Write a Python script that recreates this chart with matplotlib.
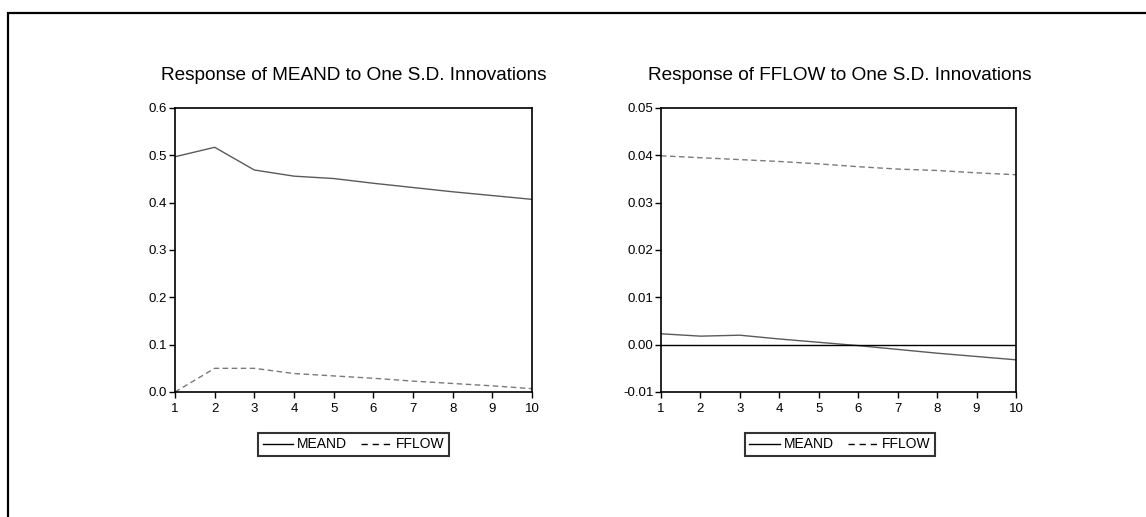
import matplotlib
matplotlib.use("Agg")
import matplotlib.pyplot as plt
from matplotlib.patches import Rectangle

periods = [1, 2, 3, 4, 5, 6, 7, 8, 9, 10]

# Response of MEAND
meand_to_meand = [0.497, 0.517, 0.469, 0.456, 0.451, 0.441, 0.432, 0.423, 0.415, 0.407]
meand_to_fflow = [0.000, 0.050, 0.050, 0.039, 0.034, 0.029, 0.023, 0.018, 0.013, 0.007]

# Response of FFLOW
fflow_to_meand = [0.0023, 0.0018, 0.0020, 0.0012, 0.0005, -0.0002, -0.0010, -0.0018, -0.0025, -0.0032]
fflow_to_fflow = [0.0399, 0.0395, 0.0391, 0.0387, 0.0382, 0.0376, 0.0371, 0.0368, 0.0363, 0.0359]

left_yticks = [0.0, 0.1, 0.2, 0.3, 0.4, 0.5, 0.6]
left_ylabels = ["0.0", "0.1", "0.2", "0.3", "0.4", "0.5", "0.6"]
right_yticks = [-0.01, 0.0, 0.01, 0.02, 0.03, 0.04, 0.05]
right_ylabels = ["-0.01", "0.00", "0.01", "0.02", "0.03", "0.04", "0.05"]

titles = ["Response of MEAND to One S.D. Innovations",
          "Response of FFLOW to One S.D. Innovations"]
legend_labels = ["MEAND", "FFLOW"]

plt.rcParams['font.family'] = ['Liberation Sans', 'DejaVu Sans']

W, H = 1146, 517
fig = plt.figure(figsize=(W / 100, H / 100), dpi=100)

# outer frame
fig.patches.append(Rectangle((7.5 / W, -0.1), 1.2, 1 - 13 / H + 0.1,
                             transform=fig.transFigure, fill=False,
                             edgecolor='black', linewidth=1.6))

def px_axes(x0, x1, y0, y1):
    return [x0 / W, 1 - y1 / H, (x1 - x0) / W, (y1 - y0) / H]

ax1 = fig.add_axes(px_axes(175, 532, 108, 392))
ax2 = fig.add_axes(px_axes(661, 1016, 108, 392))

solid_color = '#5a5a5a'
dash_color = '#7a7a7a'

for ax, ys, yl, data, title, lx in [
    (ax1, left_yticks, left_ylabels, (meand_to_meand, meand_to_fflow), titles[0], 353.5),
    (ax2, right_yticks, right_ylabels, (fflow_to_meand, fflow_to_fflow), titles[1], 840),
]:
    ax.plot(periods, data[0], color=solid_color, linewidth=1.0, linestyle='-')
    ax.plot(periods, data[1], color=dash_color, linewidth=1.0, linestyle=(0, (4, 2.5)))
    ax.set_xlim(1, 10)
    ax.set_ylim(ys[0], ys[-1])
    ax.set_yticks(ys)
    ax.set_yticklabels(yl)
    ax.set_xticks(periods)
    ax.set_xticklabels([str(p) for p in periods])
    ax.tick_params(direction='out', length=4, width=1.0, labelsize=9.5)
    ax.tick_params(axis='x', pad=4)
    ax.tick_params(axis='y', pad=1.5)
    for s in ax.spines.values():
        s.set_linewidth(1.2)
    fig.text(lx / W, 1 - 75 / H, title, ha='center', va='center', fontsize=13.7)
    h1, = ax.plot([], [], color='black', linewidth=1.0, linestyle='-')
    h2, = ax.plot([], [], color='black', linewidth=1.0, linestyle=(0, (4.5, 3.5)))
    leg = fig.legend([h1, h2], legend_labels, loc='center',
                     bbox_to_anchor=(lx / W, 1 - 444.5 / H),
                     ncol=2, frameon=True, fancybox=False, fontsize=10,
                     handlelength=2.2, handletextpad=0.3, columnspacing=1.0,
                     borderpad=0.3, borderaxespad=0)
    leg.get_frame().set_edgecolor('black')
    leg.get_frame().set_linewidth(1.5)

ax2.axhline(0, color='black', linewidth=1.0)

fig.savefig("out.png", dpi=100)
